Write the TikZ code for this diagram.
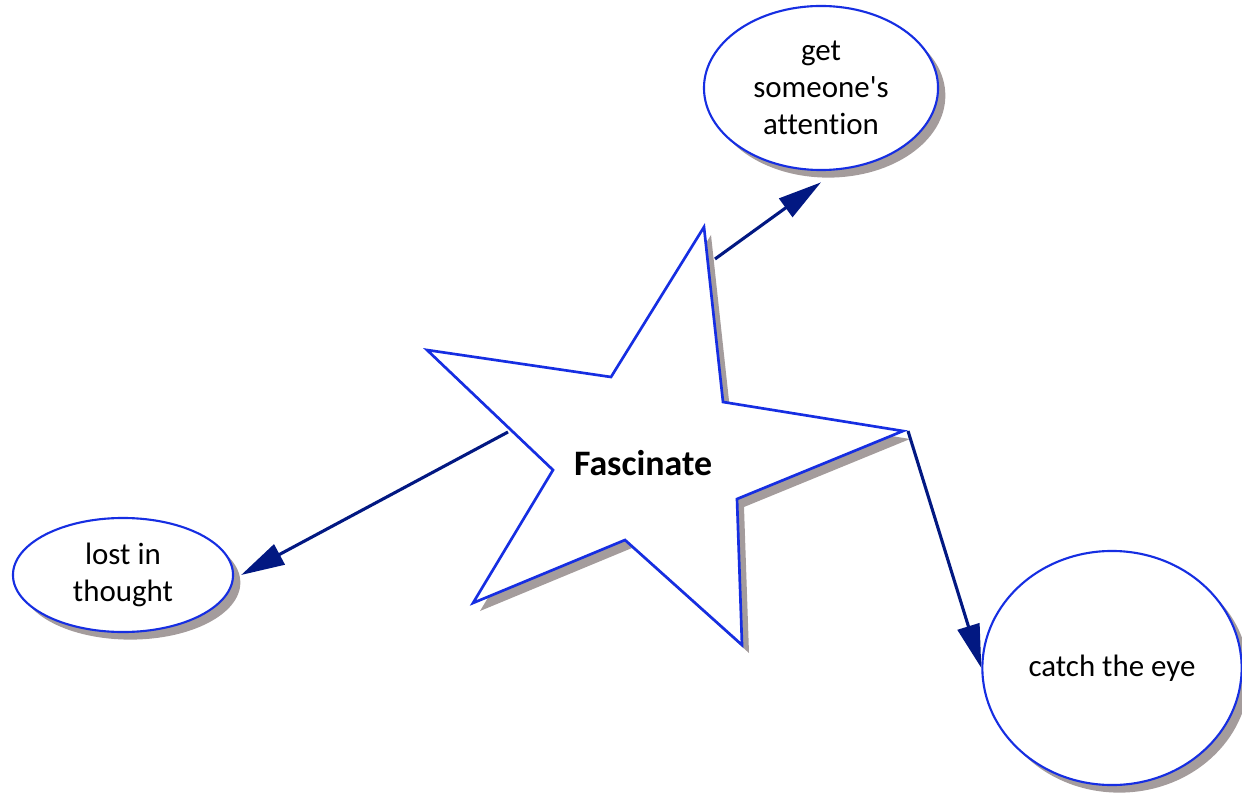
\documentclass[tikz,border=0pt]{standalone}
\usepackage{fontspec}
\setmainfont{Carlito}[Ligatures={TeXOff,NoCommon}]
\usetikzlibrary{shapes.geometric}
\usetikzlibrary{arrows.meta}
\usetikzlibrary{shadows}
\definecolor{mapblue}{RGB}{22,46,226}
\definecolor{linkblue}{RGB}{2,24,130}
\definecolor{shadegrey}{RGB}{164,156,156}

\begin{document}
\begin{tikzpicture}
  [x=0.025cm,y=-0.025cm,
  every node/.style={font=\fontsize{22}{26.5}\selectfont,align=center},
  idea/.style={ellipse,draw=mapblue,line width=1.5pt,fill=white,inner sep=0pt,
    drop shadow={shadow xshift=5.2pt,shadow yshift=-5.4pt,fill=shadegrey,opacity=1}},
  starpath/.style={insert path={(704,227)--(723,402)--(903,431)--(737,499)--(742,645)
    --(625,540)--(473,603)--(553,470)--(427,350)--(611,377)--cycle}}]

\tikzset{link/.style={->,>={Triangle[length=31pt,width=16pt]},draw=linkblue,line width=2.2pt}}

\useasboundingbox (0,0) rectangle (1242,793);

\fill[shadegrey,shift={(7,8)},starpath];
\filldraw[fill=white,draw=mapblue,line width=1.9pt,line join=miter,starpath];

\node (fasc)  at (643,463)  {\fontsize{25.5}{30}\selectfont\bfseries Fascinate};
\node[idea,minimum width=5.85cm,minimum height=4.1cm]  (attn)  at (821,88)   {get\\someone's\\attention};
\node[idea,minimum width=5.5cm,minimum height=2.85cm]  (lost)  at (123,575)  {lost in\\thought};
\node[idea,minimum width=6.48cm,minimum height=5.85cm] (catch) at (1112,668) {catch the eye};

\coordinate (s1) at (715,259);
\coordinate (s2) at (508,432);
\coordinate (s3) at (908,431);

\draw[link] (s1)--([yshift=-8pt]attn.south);
\draw[link] (s2)--([xshift=5pt]lost.east);
\draw[link] (s3)--(catch.west);
\end{tikzpicture}
\end{document}
